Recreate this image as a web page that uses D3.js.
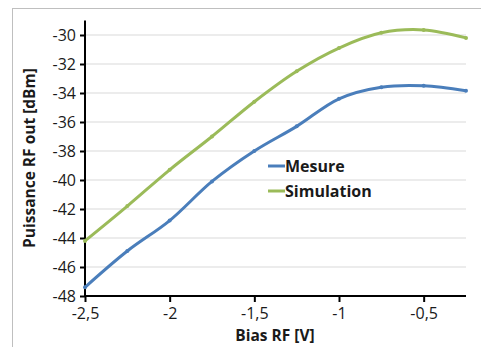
<!DOCTYPE html>
<html><head><meta charset="utf-8">
<script src="https://cdn.jsdelivr.net/npm/d3@7"></script>
<style>body{margin:0;background:#fff}svg{display:block}</style>
</head><body>
<script>
const biasV = [-2.5, -2.25, -2, -1.75, -1.5, -1.25, -1, -0.75, -0.5, -0.25];
const mesure = [-47.4, -44.9, -42.8, -40.1, -38.0, -36.3, -34.4, -33.6, -33.5, -33.85];
const simulation = [-44.2, -41.8, -39.3, -37.0, -34.6, -32.5, -30.9, -29.85, -29.65, -30.2];
const xTicks = [-2.5, -2, -1.5, -1, -0.5];
const yTicks = [-48, -46, -44, -42, -40, -38, -36, -34, -32, -30];
const seriesNames = ["Mesure", "Simulation"];
const colors = ["#4a7ebb", "#9bbb59"];

const W = 481, H = 347;
const svg = d3.select("body").append("svg").attr("width", W).attr("height", H);
const font = "'Open Sans', 'Noto Sans', sans-serif";

svg.append("rect").attr("x", 12.5).attr("y", 8.5).attr("width", 480).attr("height", 350)
  .attr("fill", "none").attr("stroke", "#bfbfbf").attr("stroke-width", 1);

const x = d3.scaleLinear().domain([-2.5, -0.25]).range([85, 466]);
const y = d3.scaleLinear().domain([-48, -29]).range([296, 20.5]);

// gridlines
svg.append("g").selectAll("line").data(yTicks).join("line")
  .attr("x1", 85).attr("x2", 466)
  .attr("y1", d => y(d)).attr("y2", d => y(d))
  .attr("stroke", "#d9d9d9").attr("stroke-width", 1.2);

const fmt = d => String(d).replace(".", ",");

const gy = svg.append("g").attr("transform", "translate(85,0)")
  .call(d3.axisLeft(y).tickValues(yTicks).tickSize(5).tickPadding(4).tickFormat(fmt));
const gx = svg.append("g").attr("transform", "translate(0,296)")
  .call(d3.axisBottom(x).tickValues(xTicks).tickSize(6).tickPadding(6).tickFormat(fmt));
[gy, gx].forEach(g => {
  g.select(".domain").attr("stroke", "#000").attr("stroke-width", 2);
  g.selectAll(".tick line").attr("stroke", "#000").attr("stroke-width", 2);
  g.selectAll("text").attr("font-family", font).attr("font-size", 16).attr("fill", "#1a1a1a");
});
gx.select(".domain").attr("d", "M85,0H466");
gy.select(".domain").attr("d", "M0,296V20.5");

const line = d3.line().x((d, i) => x(biasV[i])).y(d => y(d)).curve(d3.curveCatmullRom.alpha(0.5));
[mesure, simulation].forEach((s, k) => {
  svg.append("path").attr("d", line(s)).attr("fill", "none")
    .attr("stroke", colors[k]).attr("stroke-width", 3).attr("stroke-linejoin", "round");
  svg.append("g").selectAll("circle").data(s).join("circle")
    .attr("cx", (d, i) => x(biasV[i])).attr("cy", d => y(d)).attr("r", 2)
    .attr("fill", colors[k]);
});

// legend
seriesNames.forEach((n, k) => {
  const ly = 166 + k * 25;
  svg.append("line").attr("x1", 268).attr("x2", 285).attr("y1", ly).attr("y2", ly)
    .attr("stroke", colors[k]).attr("stroke-width", 3);
  svg.append("text").attr("x", 285).attr("y", ly).attr("dy", "0.35em")
    .attr("font-family", font).attr("font-weight", "bold").attr("font-size", 16)
    .attr("fill", "#1a1a1a").text(n);
});

svg.append("text").attr("transform", "translate(35,158) rotate(-90)")
  .attr("text-anchor", "middle").attr("font-family", font).attr("font-weight", "bold")
  .attr("font-size", 15.5).attr("fill", "#1a1a1a").text("Puissance RF out [dBm]");
svg.append("text").attr("x", 275).attr("y", 341).attr("text-anchor", "middle")
  .attr("font-family", font).attr("font-weight", "bold")
  .attr("font-size", 15.5).attr("fill", "#1a1a1a").text("Bias RF [V]");
</script>
</body></html>
